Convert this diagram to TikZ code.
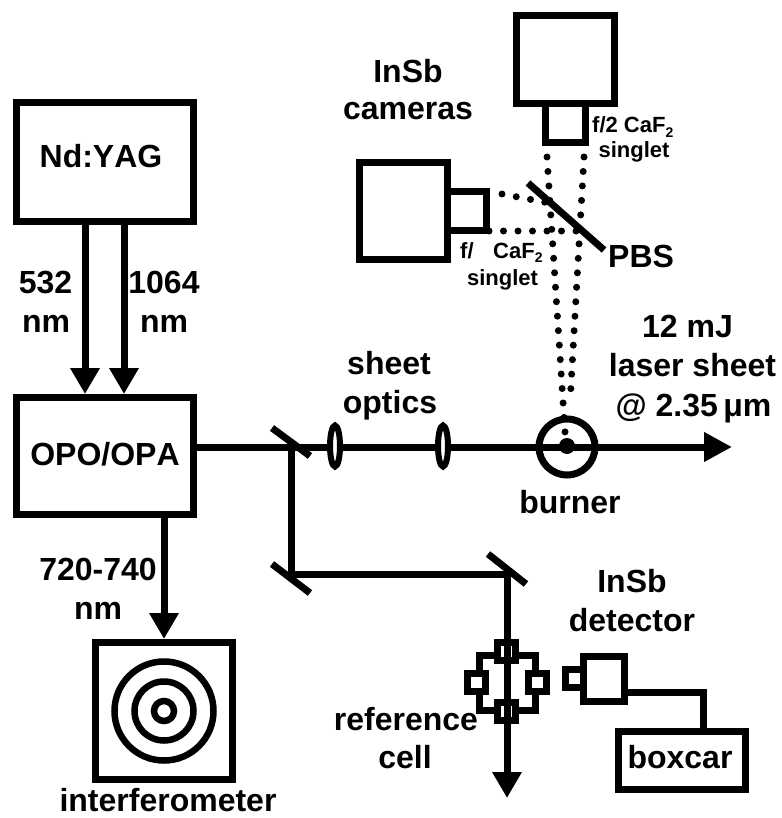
\documentclass[tikz,border=0pt]{standalone}
\usepackage{fontspec}
\setmainfont{Liberation Sans}
\usetikzlibrary{arrows.meta,calc,shapes.geometric}
\newcommand{\subtwo}{\raisebox{-0.22em}{\fontsize{14}{14}\selectfont 2}}
\tikzset{
  every node/.style={inner sep=0pt},
  lab/.style={anchor=base,font=\fontsize{32}{38}\selectfont\bfseries},
  labnokern/.style={anchor=base,font=\fontsize{32}{38}\selectfont\bfseries\addfontfeature{Kerning=Off}},
  smalllab/.style={anchor=base,font=\fontsize{22}{26}\selectfont\bfseries},
  smallleft/.style={smalllab,anchor=base west},
  box/.style={draw,rectangle,line width=7pt},
  cellport/.style={draw,rectangle,line width=7pt,fill=white,minimum width=18pt,minimum height=18pt},
  beam/.style={line width=7pt,black},
  arrowbeam/.style={beam,-{Triangle[length=26pt,width=28pt]}},
  dots/.style={line width=7pt,line cap=round,dash pattern=on 0pt off 14.5pt},
  mirror/.style={line width=7pt},
  lens/.style={draw,ellipse,line width=6pt,fill=white,minimum width=10pt,minimum height=41pt},
  ring/.style={draw,circle,line width=6.5pt},
}
\begin{document}
\begin{tikzpicture}[x=1pt,y=-1pt]
\useasboundingbox (0,0) rectangle (781,818);
% boxes
\node[box,minimum width=177pt,minimum height=119pt] (yag) at (105,162) {};
\node[box,minimum width=177pt,minimum height=117pt] (opo) at (105,456) {};
\node[box,minimum width=137pt,minimum height=137pt] (ifm) at (164,711) {};
\node[box,minimum width=98pt,minimum height=88.5pt] (camA) at (565.5,59.5) {};
\node[box,minimum width=40pt,minimum height=39.5pt] (lensA) at (565.5,123) {};
\node[box,minimum width=88pt,minimum height=97.5pt] (camB) at (403.5,211) {};
\node[box,minimum width=39.5pt,minimum height=39pt] (lensB) at (466.8,211) {};
% coordinates for beams
\coordinate (a1) at (85,300);
\coordinate (a2) at (124,300);
\coordinate (tip) at (732,447);
\coordinate (s1) at (291,447);
\coordinate (s2) at (291,574);
\coordinate (s3) at (507,574);
\coordinate (end) at (507,798);
\coordinate (m1a) at (272,428); \coordinate (m1b) at (310,456);
\coordinate (m2a) at (272,564); \coordinate (m2b) at (310,593);
\coordinate (m3a) at (488,554); \coordinate (m3b) at (526,584);
\coordinate (pa) at (528,183); \coordinate (pb) at (604,250);
% input arrows
\draw[arrowbeam] (a1 |- yag.south) -- (a1 |- opo.north);
\draw[arrowbeam] (a2 |- yag.south) -- (a2 |- opo.north);
\draw[arrowbeam] (opo.south -| ifm.north) -- (ifm.north);
% rings
\node[ring,minimum size=99pt] (r1) at (ifm.center) {};
\node[ring,minimum size=59pt] (r2) at (ifm.center) {};
\node[ring,minimum size=20pt] (r3) at (ifm.center) {};
% main beam
\draw[beam,-{Triangle[length=28pt,width=28pt]}] (opo.east |- tip) -- (tip);
\draw[beam,line cap=rect] (s1) -- (s2) -- (s3);
% mirrors
\draw[mirror] (m1a) -- (m1b);
\draw[mirror] (m2a) -- (m2b);
\draw[mirror] (m3a) -- (m3b);
\draw[mirror] (pa) -- (pb);
% lenses
\node[lens] (l1) at (335,446) {};
\node[lens] (l2) at (443,446) {};
% burner
\node[draw,circle,line width=7pt,minimum size=56pt] (burner) at (567,447) {};
\node[circle,fill=black,minimum size=16pt] (flame) at (567,446) {};
% dotted rays
\coordinate (d1a) at (547,157); \coordinate (d1b) at (565,432);
\coordinate (d2a) at (584,157); \coordinate (d2b) at (570,403);
\coordinate (d3a) at (502,194); \coordinate (d3b) at (549,203);
\coordinate (d4a) at (489,231); \coordinate (d4b) at (578,231);
\draw[dots] (d1a) -- (d1b);
\draw[dots] (d2a) -- (d2b);
\draw[dots] (d3a) -- (d3b);
\draw[dots] (d4a) -- (d4b);
% reference cell
\node[draw,rectangle,line width=7pt,minimum width=56pt,minimum height=55pt] (cell) at (507,682.5) {};
\node[cellport] (pt) at (506.5,651.5) {};
\node[cellport] (pb2) at (506.5,711.5) {};
\node[cellport] (pl) at (476.5,682) {};
\node[cellport] (pr) at (537.5,682) {};
\draw[arrowbeam] (s3) -- (end);
% detector
\node[box,minimum width=41pt,minimum height=45pt] (det) at (604,679) {};
\node[cellport] (detw) at (574.5,678.5) {};
\node[box,minimum width=127pt,minimum height=58pt] (boxcar) at (682,760.5) {};
\coordinate (wire) at (703,692);
\draw[beam,line cap=rect] (det.east |- wire) -- (wire) -- (wire |- boxcar.north);
% labels
\node[labnokern] (tyag) at (101,168) {Nd:YAG};
\node[labnokern] (topo) at (105,465) {OPO/OPA};
\node[lab] (t532) at (45.5,293) {532};
\node[lab] (t532n) at (46,332) {nm};
\node[lab] (t1064) at (164,293) {1064};
\node[lab] (t1064n) at (164,332) {nm};
\node[lab] (t720) at (98,580) {720-740};
\node[lab] (t720n) at (98,619) {nm};
\node[lab] (tifm) at (168,811) {interferometer};
\node[lab] (tc1) at (408,83) {InSb};
\node[lab] (tc2) at (408,120) {cameras};
\node[lab,anchor=base west] (tpbs) at (608,267) {PBS};
\node[smallleft] (tsa) at (592,133) {f/2 CaF\subtwo};
\node[smalllab] (tsb) at (634,158) {singlet};
\node[smallleft] (tsc) at (460,258) {f/};
\node[smallleft] (tsd) at (493,258) {CaF\subtwo};
\node[smalllab] (tse) at (502.5,285) {singlet};
\node[lab] (tsh) at (389,374) {sheet};
\node[lab] (top) at (390,413) {optics};
\node[lab] (tl1) at (687.5,337) {12 mJ};
\node[lab] (tl2) at (692.5,376) {laser sheet};
\node[lab] (tl3) at (693.5,416) {@ 2.35\,μm};
\node[lab] (tbur) at (570,513) {burner};
\node[lab] (td1) at (632,592) {InSb};
\node[lab] (td2) at (632,631) {detector};
\node[lab] (tbox) at (680,768) {boxcar};
\node[lab] (tr1) at (406,730) {reference};
\node[lab] (tr2) at (405,768) {cell};
\end{tikzpicture}
\end{document}
